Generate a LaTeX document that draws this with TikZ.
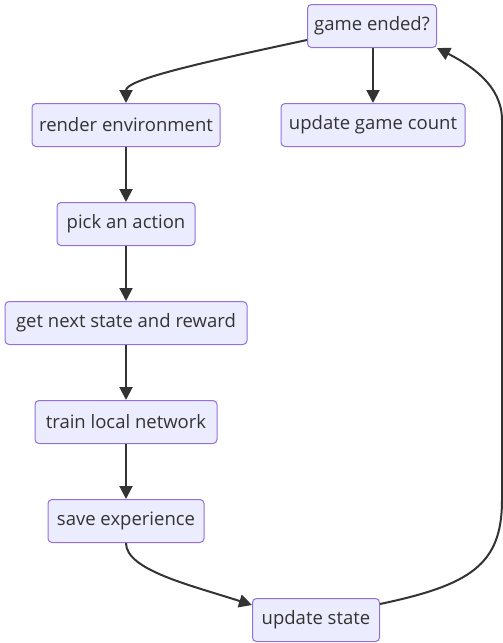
\documentclass[tikz,border=0pt]{standalone}
\usepackage{fontspec}
\setmainfont{Open Sans}
\usetikzlibrary{arrows.meta}
\definecolor{boxfill}{HTML}{ECECFF}
\definecolor{boxline}{HTML}{9370DB}
\definecolor{ink}{HTML}{333333}
\begin{document}
\begin{tikzpicture}[x=1pt,y=-1pt,
  box/.style={draw=boxline,fill=boxfill,line width=1pt,rounded corners=4pt,minimum height=43pt,inner sep=0pt,text=ink,font=\fontsize{18.5}{22}\selectfont},
  arr/.style={draw=ink,line width=2pt,-{Triangle[length=13pt,width=13pt]}}]
\useasboundingbox (0,0) rectangle (503,643);
\node[box,minimum width=129pt] (ge) at (372,26) {game ended?};
\node[box,minimum width=188pt] (re) at (126,125) {render environment};
\node[box,minimum width=184pt] (ug) at (373,125) {update game count};
\node[box,minimum width=138pt] (pa) at (126,224) {pick an action};
\node[box,minimum width=242pt] (gn) at (126,323) {get next state and reward};
\node[box,minimum width=182pt] (tl) at (126,422) {train local network};
\node[box,minimum width=156pt] (se) at (126,521) {save experience};
\node[box,minimum width=127pt] (us) at (316,620) {update state};
\draw[arr] (ge.west |- 0,40) .. controls (190,65) and (126,80) .. (re.north);
\draw[arr] (ge.south -| ug.north) -- (ug.north);
\draw[arr] (re) -- (pa);
\draw[arr] (pa) -- (gn);
\draw[arr] (gn) -- (tl);
\draw[arr] (tl) -- (se);
\draw[arr] (se.south) .. controls (126,570) and (190,585) .. (us.west |- 0,605);
\draw[arr] (us.east |- 0,604) .. controls (470,585) and (502,565) .. (502,500) -- (502,120) .. controls (502,85) and (470,65) .. (ge.south east);
\end{tikzpicture}
\end{document}
